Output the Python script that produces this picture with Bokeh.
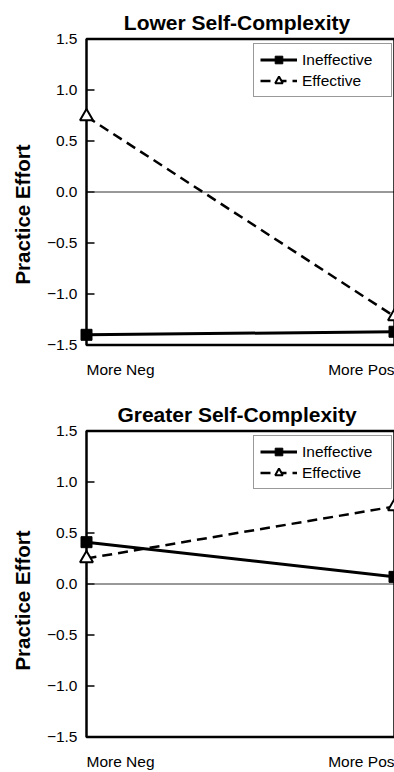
from bokeh.plotting import figure
from bokeh.models import Range1d, BoxAnnotation, Legend, LegendItem, FixedTicker
from bokeh.layouts import column
from bokeh.core.properties import value
from bokeh.embed import file_html
from bokeh.resources import INLINE

# ---- data ----
categories = ["More Neg", "More Pos"]
x_pos = [0, 1]
panel_titles = ["Lower Self-Complexity", "Greater Self-Complexity"]
series_names = ["Ineffective", "Effective"]
lower_ineffective = [-1.40, -1.37]
lower_effective = [0.74, -1.22]
greater_ineffective = [0.41, 0.07]
greater_effective = [0.25, 0.76]
y_ticks = [-1.5, -1.0, -0.5, 0.0, 0.5, 1.0, 1.5]
y_tick_labels = ["\u22121.5", "\u22121.0", "\u22120.5", "0.0", "0.5", "1.0", "1.5"]
y_label = "Practice Effort"

FONT = "Liberation Sans"

# ---- layout constants (pixels) ----
WIDTH = 394
BORDER_LEFT = 79      # frame left edge
AXIS_GAP = 7          # room left of the drawn axis line so markers are not cut
BORDER_TOP = 36
PX_PER_UNIT = 102.0
TOP_PAD = 2.5
TICK_LEN = 8


def make_panel(title, ineff, eff, height):
    frame_w = WIDTH - BORDER_LEFT
    x_start = -AXIS_GAP / (frame_w - AXIS_GAP) * (x_pos[-1] - x_pos[0]) + x_pos[0]
    y_end = y_ticks[-1] + TOP_PAD / PX_PER_UNIT
    y_start = y_end - (height - BORDER_TOP) / PX_PER_UNIT

    p = figure(width=WIDTH, height=height, output_backend="svg", toolbar_location=None,
               x_range=Range1d(x_start, x_pos[-1]), y_range=Range1d(y_start, y_end),
               min_border_left=BORDER_LEFT, min_border_right=0, min_border_top=BORDER_TOP,
               min_border_bottom=0, title=title)
    p.title.text_font = FONT
    p.title.text_font_size = "21px"
    p.title.text_font_style = "bold"
    p.title.text_color = "black"
    p.title.align = "center"
    p.title.standoff = 6
    p.outline_line_color = None
    p.xgrid.visible = False
    p.ygrid.visible = False
    p.xaxis.visible = False

    ax = p.yaxis[0]
    ax.ticker = FixedTicker(ticks=y_ticks)
    ax.major_label_overrides = dict(zip(y_ticks, y_tick_labels))
    ax.axis_line_color = None
    ax.major_tick_line_color = None
    ax.major_tick_in = 0
    ax.major_tick_out = 0
    ax.minor_tick_line_color = None
    ax.major_label_standoff = 2
    ax.major_label_text_font = FONT
    ax.major_label_text_font_size = "15.5px"
    ax.major_label_text_color = "black"
    ax.axis_label = y_label
    ax.axis_label_text_font = FONT
    ax.axis_label_text_font_size = "20.5px"
    ax.axis_label_text_font_style = "bold"
    ax.axis_label_text_color = "black"
    ax.axis_label_standoff = 10

    # plot box
    p.add_layout(BoxAnnotation(left=x_pos[0], right=x_pos[-1], bottom=y_ticks[0], top=y_ticks[-1],
                               fill_alpha=0, line_color="black", line_alpha=1, line_width=2.5))
    # inward tick marks on the drawn axis line
    p.ray(x=[x_pos[0]] * len(y_ticks), y=y_ticks, length=TICK_LEN, length_units="screen",
          angle=0, line_color="black", line_width=1.5)
    # zero line
    p.segment(x0=[x_pos[0]], y0=[0], x1=[x_pos[-1]], y1=[0], line_color="#333333", line_width=1)

    r1 = p.line(x_pos, ineff, line_color="black", line_width=3)
    r2 = p.scatter(x_pos, ineff, marker="square", size=11, fill_color="black", line_color="black")
    r3 = p.line(x_pos, eff, line_color="black", line_width=2.5, line_dash="10 6")
    r4 = p.scatter(x_pos, eff, marker="triangle", size=13, fill_color="white",
                   line_color="black", line_width=2)
    r2.level = "overlay"
    r4.level = "overlay"

    legend_left = 253 - BORDER_LEFT
    legend_bottom = height - 97
    legend = Legend(items=[LegendItem(label=series_names[0], renderers=[r1, r2]),
                           LegendItem(label=series_names[1], renderers=[r3, r4])],
                    location=(legend_left, legend_bottom), margin=0, padding=6, spacing=2,
                    glyph_width=37, glyph_height=19, label_height=19, label_standoff=5,
                    label_width=83, label_text_font=FONT, label_text_font_size="15.5px",
                    label_text_color="black",
                    border_line_color="#333333", border_line_width=1.2,
                    background_fill_color="white", background_fill_alpha=1)
    p.add_layout(legend, "center")

    for x, txt, align in zip(x_pos, categories, ["left", "right"]):
        p.text(x=[x], y=[y_ticks[0]], text=[txt], y_offset=16, text_align=align,
               text_baseline="top", text_font=value(FONT), text_font_size=value("15.5px"),
               text_color="black")
    return p


p1 = make_panel(panel_titles[0], lower_ineffective, lower_effective, 392)
p2 = make_panel(panel_titles[1], greater_ineffective, greater_effective, 380)

layout = column(p1, p2, spacing=0)
open("out.html", "w").write(file_html(layout, INLINE))
